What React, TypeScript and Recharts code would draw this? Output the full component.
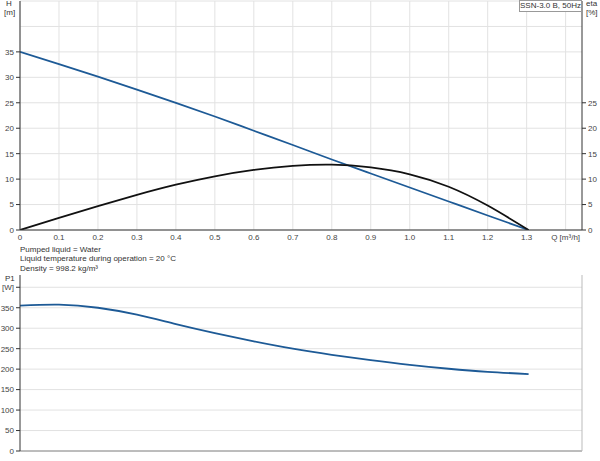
import React from 'react';
import { LineChart, Line, XAxis, YAxis, CartesianGrid } from 'recharts';

const flowQ = [0, 0.1, 0.2, 0.3, 0.4, 0.5, 0.6, 0.7, 0.8, 0.9, 1.0, 1.1, 1.2, 1.305];
const headH = [35, 32.6, 30.15, 27.6, 25.0, 22.3, 19.5, 16.7, 13.85, 11.1, 8.35, 5.6, 2.85, 0];
const effEta = [0, 2.4, 4.7, 6.9, 8.9, 10.55, 11.8, 12.6, 12.85, 12.3, 10.95, 8.5, 4.8, 0];
const powerP1 = [355, 357.5, 350, 333, 310, 288, 268, 250, 235, 222, 210.5, 201, 193.5, 188];

const qTicks = [0, 0.1, 0.2, 0.3, 0.4, 0.5, 0.6, 0.7, 0.8, 0.9, 1.0, 1.1, 1.2, 1.3, 1.4];
const hTicks = [0, 5, 10, 15, 20, 25, 30, 35];
const hGrid = [0, 5, 10, 15, 20, 25, 30, 35, 40, 45];
const etaTicks = [0, 5, 10, 15, 20, 25];
const pTicks = [0, 50, 100, 150, 200, 250, 300, 350, 400];
const pGrid = [0, 50, 100, 150, 200, 250, 300, 350, 400];
const infoLines = ['Pumped liquid = Water', 'Liquid temperature during operation = 20 °C', 'Density = 998.2 kg/m³'];
const title = 'SSN-3.0 B, 50Hz';
const qUnit = 'Q [m³/h]';

const FONT = '"Liberation Sans", Arial, sans-serif';
const tickStyle = { fontSize: 8, fill: '#444', fontFamily: FONT };
const BLUE = '#1d5a96';

const topData = flowQ.map((q, i) => ({ q, h: headH[i], eta: effEta[i] }));
const bottomData = flowQ.map((q, i) => ({ q, p: powerP1[i] }));

const fmtQ = (v: number) => (v === 1.4 ? qUnit : v === 0 ? '0' : v.toFixed(1));
const fmtP = (v: number) => (v === 400 ? '[W]' : String(v));

const txt = (s: string, left: number, top: number, extra: any = {}) => (
  <div style={{ position: 'absolute', left, top, fontSize: 8, lineHeight: '9px', color: '#333', fontFamily: FONT, whiteSpace: 'nowrap', ...extra }}>{s}</div>
);

export default function App() {
  return (
    <div style={{ position: 'absolute', left: 0, top: 0, width: 600, height: 461, background: '#fff', fontFamily: FONT }}>
      <div style={{ position: 'absolute', left: 0, top: 0 }}>
        <LineChart width={600} height={250} data={topData} margin={{ top: 1, right: 0, bottom: 0, left: 0 }}>
          <CartesianGrid stroke="#e2e2e2" horizontalValues={hGrid} verticalValues={qTicks} yAxisId="left" />
          <XAxis dataKey="q" type="number" domain={[0, 1.442]} ticks={qTicks} tickFormatter={fmtQ} interval={0}
            allowDataOverflow height={20} tick={tickStyle} tickLine={false} tickSize={0} tickMargin={4}
            axisLine={{ stroke: '#333', strokeWidth: 1 }} />
          <YAxis yAxisId="left" type="number" domain={[0, 45]} ticks={hTicks} interval={0} width={20}
            tick={tickStyle} tickSize={4} tickMargin={2} tickLine={{ stroke: '#333' }}
            axisLine={{ stroke: '#333', strokeWidth: 1 }} allowDataOverflow />
          <YAxis yAxisId="right" orientation="right" type="number" domain={[0, 45]} ticks={etaTicks} interval={0} width={18}
            tick={{ ...tickStyle, textAnchor: 'start' }} tickSize={4} tickMargin={2} tickLine={{ stroke: '#333' }}
            axisLine={{ stroke: '#333', strokeWidth: 1 }} allowDataOverflow />
          <Line yAxisId="left" dataKey="h" type="natural" stroke={BLUE} strokeWidth={1.8} dot={false} isAnimationActive={false} />
          <Line yAxisId="right" dataKey="eta" type="natural" stroke="#111" strokeWidth={1.8} dot={false} isAnimationActive={false} />
        </LineChart>
      </div>
      {txt('H', 6, -1)}
      {txt('[m]', 4, 8)}
      {txt('eta', 586, -1)}
      {txt('[%]', 586, 8)}
      <div style={{ position: 'absolute', left: 519, top: 0, width: 61, height: 10, border: '1px solid #999', background: '#fff', fontSize: 8, lineHeight: '10px', color: '#333', textAlign: 'center', fontFamily: FONT, whiteSpace: 'nowrap' }}>{title}</div>
      {infoLines.map((s, i) => txt(s, 20, 245 + i * 9.3, { key: i }))}
      <div style={{ position: 'absolute', left: 0, top: 270 }}>
        <LineChart width={600} height={191} data={bottomData} margin={{ top: 5, right: 0, bottom: 0, left: 0 }}>
          <CartesianGrid stroke="#e2e2e2" horizontalValues={pGrid} verticalValues={qTicks} />
          <XAxis dataKey="q" type="number" domain={[0, 1.442]} ticks={qTicks} interval={0} allowDataOverflow height={10}
            tick={false} tickLine={false} axisLine={{ stroke: '#888', strokeWidth: 1 }} />
          <XAxis xAxisId="top" orientation="top" dataKey="q" type="number" domain={[0, 1.442]} height={0}
            tick={false} tickLine={false} axisLine={{ stroke: '#bbb', strokeWidth: 1 }} />
          <YAxis type="number" domain={[0, 430]} ticks={pTicks} interval={0} width={20} tickFormatter={fmtP}
            tick={tickStyle} tickSize={4} tickMargin={2} tickLine={{ stroke: '#333' }}
            axisLine={{ stroke: '#333', strokeWidth: 1 }} allowDataOverflow />
          <YAxis yAxisId="rb" orientation="right" type="number" domain={[0, 430]} width={18}
            tick={false} tickLine={false} axisLine={{ stroke: '#bbb', strokeWidth: 1 }} />
          <Line dataKey="p" type="natural" stroke={BLUE} strokeWidth={1.8} dot={false} isAnimationActive={false} />
        </LineChart>
      </div>
      {txt('P1', 5, 274)}
    </div>
  );
}
